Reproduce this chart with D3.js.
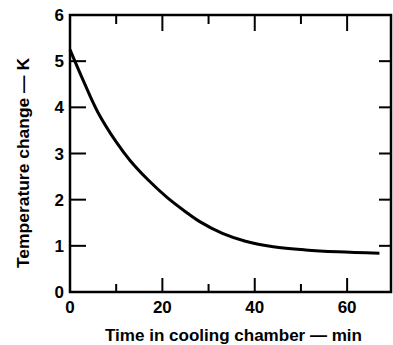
<!DOCTYPE html>
<html>
<head>
<meta charset="utf-8">
<script src="https://cdn.jsdelivr.net/npm/d3@7"></script>
<style>
  body { margin: 0; background: #fff; }
  text { font-family: "Liberation Sans", Arial, sans-serif; font-weight: bold; fill: #000; }
</style>
</head>
<body>
<script>
// values
var timeMin = [0, 3, 6, 10, 13, 17, 21, 25, 28, 33, 38, 44, 51, 58, 67];
var tempK = [5.25, 4.55, 3.9, 3.25, 2.85, 2.42, 2.05, 1.74, 1.53, 1.27, 1.1, 0.98, 0.91, 0.87, 0.84];
var xTicks = [0, 20, 40, 60];
var xMinor = [10, 30, 50];
var yTicks = [0, 1, 2, 3, 4, 5, 6];

var W = 393, H = 345;
var m = { left: 70, top: 15, right: 2, bottom: 53 };

var svg = d3.select("body").append("svg")
  .attr("width", W)
  .attr("height", H);

var x = d3.scaleLinear().domain([0, 69.5]).range([m.left, W - m.right]);
var y = d3.scaleLinear().domain([0, 6]).range([H - m.bottom, m.top]);

// frame
svg.append("rect")
  .attr("x", x(0)).attr("y", y(6))
  .attr("width", x(69.5) - x(0)).attr("height", y(0) - y(6))
  .attr("fill", "none").attr("stroke", "#000").attr("stroke-width", 2.5);

// ticks, all pointing inward
var g = svg.append("g").attr("stroke", "#000").attr("stroke-width", 2);
xTicks.slice(1).forEach(function (t) {
  g.append("line").attr("x1", x(t)).attr("x2", x(t)).attr("y1", y(0)).attr("y2", y(0) - 14);
  g.append("line").attr("x1", x(t)).attr("x2", x(t)).attr("y1", y(6)).attr("y2", y(6) + 16);
});
xMinor.forEach(function (t) {
  g.append("line").attr("x1", x(t)).attr("x2", x(t)).attr("y1", y(0)).attr("y2", y(0) - 8);
  g.append("line").attr("x1", x(t)).attr("x2", x(t)).attr("y1", y(6)).attr("y2", y(6) + 9);
});
yTicks.slice(1, 6).forEach(function (v) {
  g.append("line").attr("x1", x(0)).attr("x2", x(0) + 16).attr("y1", y(v)).attr("y2", y(v));
  g.append("line").attr("x1", x(69.5)).attr("x2", x(69.5) - 12).attr("y1", y(v)).attr("y2", y(v));
});

// tick labels
svg.selectAll(".xl").data(xTicks).enter().append("text")
  .attr("x", function (d) { return x(d); })
  .attr("y", y(0) + 21)
  .attr("text-anchor", "middle")
  .style("font-size", "17px")
  .text(function (d) { return d; });

svg.selectAll(".yl").data(yTicks).enter().append("text")
  .attr("x", x(0) - 6)
  .attr("y", function (d) { return y(d) + 6; })
  .attr("text-anchor", "end")
  .style("font-size", "17px")
  .text(function (d) { return d; });

// axis titles
svg.append("text")
  .attr("x", 105).attr("y", 341)
  .attr("textLength", 257)
  .attr("lengthAdjust", "spacingAndGlyphs")
  .style("font-size", "16px")
  .text("Time in cooling chamber \u2014 min");

svg.append("text")
  .attr("transform", "translate(29,268) rotate(-90)")
  .attr("textLength", 210)
  .attr("lengthAdjust", "spacingAndGlyphs")
  .style("font-size", "16px")
  .text("Temperature change \u2014 K");

// curve
var line = d3.line()
  .x(function (d, i) { return x(timeMin[i]); })
  .y(function (d) { return y(d); })
  .curve(d3.curveCatmullRom.alpha(0.5));

svg.append("path")
  .datum(tempK)
  .attr("d", line)
  .attr("fill", "none")
  .attr("stroke", "#000")
  .attr("stroke-width", 3);
</script>
</body>
</html>
